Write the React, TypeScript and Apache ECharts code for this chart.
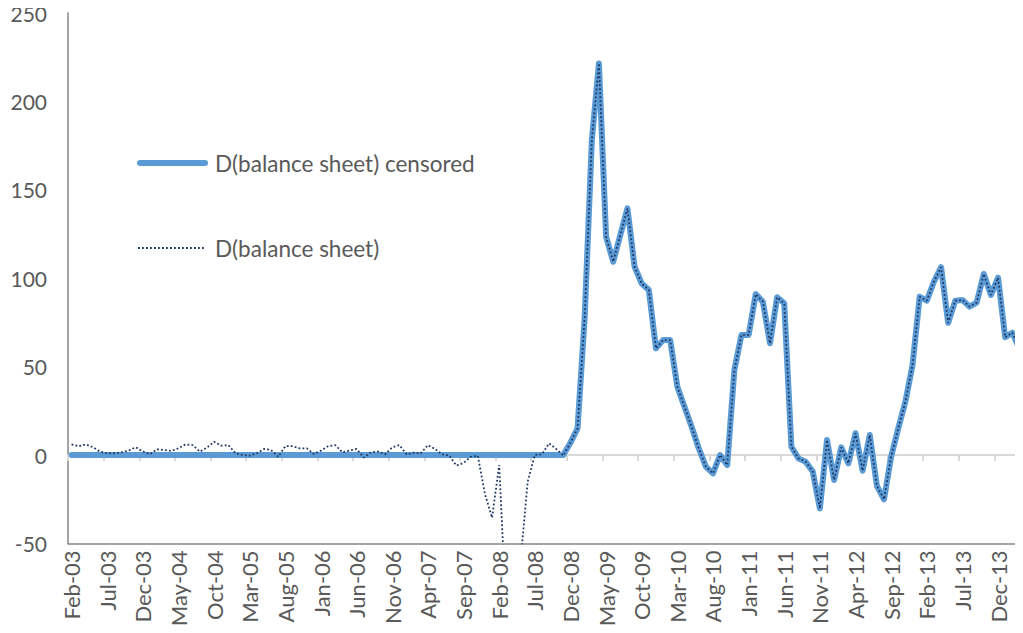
import React, { useEffect, useRef } from "react";
import * as echarts from "echarts";

const MONTHS = ["Jan", "Feb", "Mar", "Apr", "May", "Jun", "Jul", "Aug", "Sep", "Oct", "Nov", "Dec"];
const START_YEAR = 2003;
const START_MONTH = 1; // Feb
const MONTH_COUNT = 134; // Feb-03 .. Mar-14

const categories: string[] = [];
for (let i = 0; i < MONTH_COUNT; i++) {
  const m = (START_MONTH + i) % 12;
  const y = START_YEAR + Math.floor((START_MONTH + i) / 12);
  categories.push(`${MONTHS[m]}-${String(y % 100).padStart(2, "0")}`);
}

const rawValues = [
  6, 5, 6, 4.4, 1.9, 1, 1, 1.5, 2.5, 4.4, 2, 0.5, 3.2, 2.8, 2.3, 3.8, 6, 5.6, 1.9, 4.2,
  7.5, 5.3, 5.6, 1, 0, -0.4, 1, 3.4, 2.8, -1, 5, 5, 3.8, 3.8, 0.6, 2.5, 5, 5.6, 1.5, 2.5,
  3.4, -1.5, 1.5, 2, 0.4, 4.4, 5.6, 0.4, 1.3, 1, 5.6, 3.4, 0.4, -0.3, -6, -4.5, -1, -0.4, -22, -35.5,
  -5.7, -90, -100, -60, -15, 0, 0.4, 6.6, 3.4, -0.4, 7, 15.1, 78, 178, 221.5, 123.5, 109.3, 124.4, 139.5, 106.5,
  97, 93.3, 60.3, 65, 65, 38.6, 27.3, 16, 3.8, -6.6, -10.4, 0, -5.7, 48, 67.9, 67.9, 91, 86.7, 63.2, 89.2,
  85.8, 4.7, -1.9, -3.8, -9.4, -30.2, 8.5, -14.1, 4.3, -4.7, 12.3, -8.9, 11.3, -17.5, -25.1, -0.9, 15.1, 30.2, 50.9, 89.5,
  87.3, 98, 106.2, 74.8, 87.3, 87.7, 83.9, 86.2, 102.4, 90.5, 100.3, 66.6, 69.2, 60,
];

const censoredValues = [
  0, 0, 0, 0, 0, 0, 0, 0, 0, 0, 0, 0, 0, 0, 0, 0, 0, 0, 0, 0,
  0, 0, 0, 0, 0, 0, 0, 0, 0, 0, 0, 0, 0, 0, 0, 0, 0, 0, 0, 0,
  0, 0, 0, 0, 0, 0, 0, 0, 0, 0, 0, 0, 0, 0, 0, 0, 0, 0, 0, 0,
  0, 0, 0, 0, 0, 0, 0, 0, 0, 0, 7, 15.1, 78, 178, 221.5, 123.5, 109.3, 124.4, 139.5, 106.5,
  97, 93.3, 60.3, 65, 65, 38.6, 27.3, 16, 3.8, -6.6, -10.4, 0, -5.7, 48, 67.9, 67.9, 91, 86.7, 63.2, 89.2,
  85.8, 4.7, -1.9, -3.8, -9.4, -30.2, 8.5, -14.1, 4.3, -4.7, 12.3, -8.9, 11.3, -17.5, -25.1, -0.9, 15.1, 30.2, 50.9, 89.5,
  87.3, 98, 106.2, 74.8, 87.3, 87.7, 83.9, 86.2, 102.4, 90.5, 100.3, 66.6, 69.2, 60,
];

const SERIES_CENSORED = "D(balance sheet) censored";
const SERIES_RAW = "D(balance sheet)";

const FONT = "Lato";
const TEXT_COLOR = "#595959";
const BLUE = "#5b9bd5";
const NAVY = "#203864";

export default function App() {
  const ref = useRef<HTMLDivElement>(null);

  useEffect(() => {
    if (!ref.current) return;
    const chart = echarts.init(ref.current, undefined, { renderer: "svg" });
    chart.setOption({
      animation: false,
      backgroundColor: "#ffffff",
      grid: { left: 68, right: -4.4, top: 13, bottom: 89.6, containLabel: false },
      graphic: [
        {
          type: "line",
          shape: { x1: 140, y1: 163, x2: 205, y2: 163 },
          style: { stroke: BLUE, lineWidth: 6, lineCap: "round" },
          z: 10,
        },
        {
          type: "text",
          x: 215,
          y: 163,
          style: {
            text: SERIES_CENSORED,
            fontFamily: FONT,
            fontSize: 22.5,
            fill: TEXT_COLOR,
            verticalAlign: "middle",
            align: "left",
          },
          z: 10,
        },
        {
          type: "line",
          shape: { x1: 138, y1: 248, x2: 206, y2: 248 },
          style: { stroke: NAVY, lineWidth: 1.8, lineDash: [1.8, 2.2] },
          z: 10,
        },
        {
          type: "text",
          x: 215,
          y: 248,
          style: {
            text: SERIES_RAW,
            fontFamily: FONT,
            fontSize: 22.5,
            fill: TEXT_COLOR,
            verticalAlign: "middle",
            align: "left",
          },
          z: 10,
        },
      ],
      xAxis: [
        {
          type: "category",
          data: categories,
          boundaryGap: true,
          position: "bottom",
          axisLine: { show: true, onZero: false, lineStyle: { color: "#868686", width: 1.5 } },
          axisTick: { show: false },
          axisLabel: {
            interval: 4,
            rotate: 90,
            margin: 7,
            fontFamily: FONT,
            fontSize: 22,
            color: TEXT_COLOR,
          },
          splitLine: { show: false },
        },
        {
          type: "category",
          data: categories,
          boundaryGap: true,
          position: "bottom",
          axisLine: { show: true, onZero: true, lineStyle: { color: "#d9d9d9", width: 2 } },
          axisTick: { show: true, interval: 4, length: 6, lineStyle: { color: "#d9d9d9", width: 2 } },
          axisLabel: { show: false },
          splitLine: { show: false },
        },
      ],
      yAxis: {
        type: "value",
        min: -50,
        max: 250,
        interval: 50,
        axisLine: { show: true, lineStyle: { color: "#868686", width: 1.5 } },
        axisTick: { show: false },
        splitLine: { show: false },
        axisLabel: { margin: 21, fontFamily: FONT, fontSize: 21, color: TEXT_COLOR },
      },
      series: [
        {
          name: SERIES_CENSORED,
          type: "line",
          data: censoredValues,
          xAxisIndex: 0,
          yAxisIndex: 0,
          symbol: "none",
          clip: true,
          lineStyle: { color: BLUE, width: 6, cap: "round", join: "round" },
          itemStyle: { color: BLUE },
          z: 2,
        },
        {
          name: SERIES_RAW,
          type: "line",
          data: rawValues,
          xAxisIndex: 0,
          yAxisIndex: 0,
          symbol: "none",
          clip: true,
          lineStyle: { color: NAVY, width: 1.8, type: [1.8, 2.2] },
          itemStyle: { color: NAVY },
          z: 3,
        },
      ],
    });
    return () => chart.dispose();
  }, []);

  return <div ref={ref} style={{ width: 1023, height: 633, margin: -8 }} />;
}
